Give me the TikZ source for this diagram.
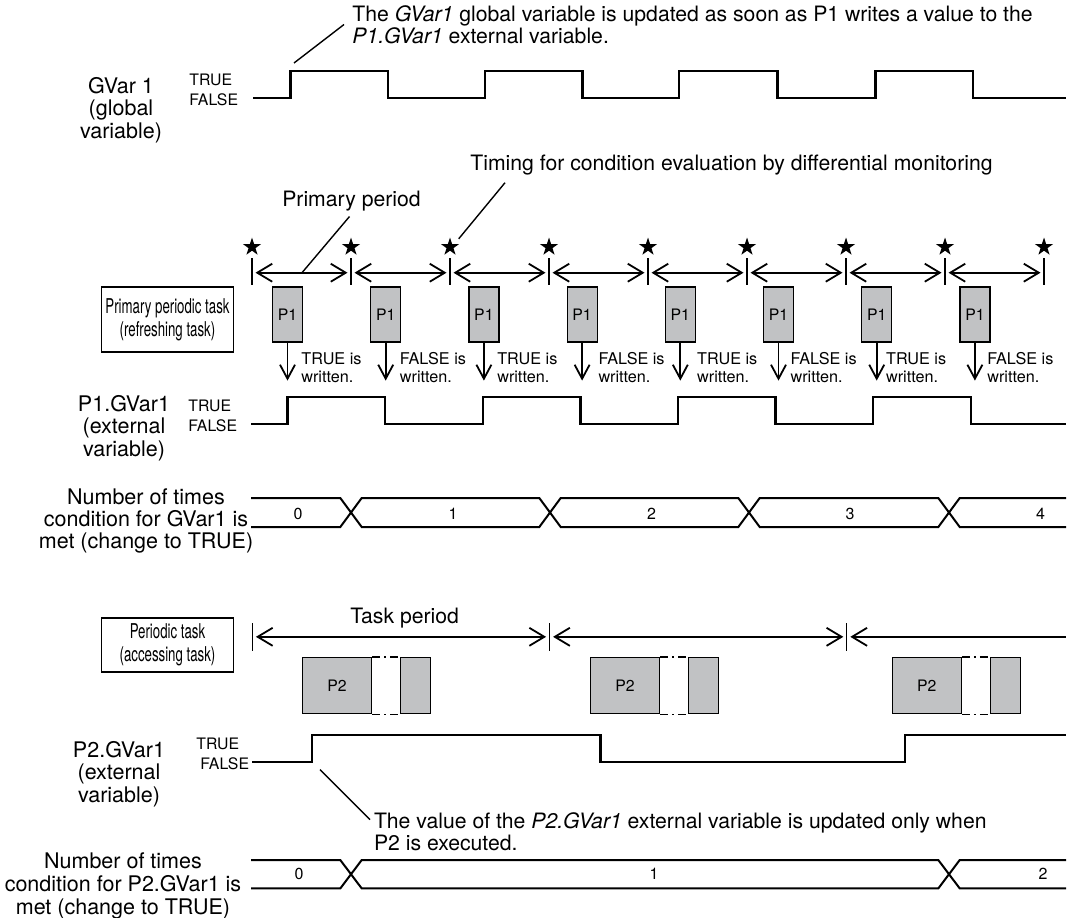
\documentclass[tikz,border=0pt]{standalone}
\usepackage{fontspec}
\setmainfont{TeX Gyre Heros}
\newfontfamily\narrowfont[FakeStretch=0.65]{TeX Gyre Heros}
\usetikzlibrary{arrows.meta,shapes.geometric}
\definecolor{taskgray}{RGB}{193,194,196}

\tikzset{
  wave/.style={line width=1.2pt},
  count/.style={line width=1pt},
  lbl/.style={align=center, inner sep=0pt, font=\fontsize{10.75}{11.2}\selectfont},
  lvl/.style={anchor=west, inner sep=0pt, font=\fontsize{7.9}{8}\selectfont},
  note/.style={align=left, inner sep=0pt, font=\fontsize{10.6}{9.2}\selectfont},
  num/.style={inner sep=0pt, font=\fontsize{8}{8}\selectfont},
  taskbox/.style={draw, line width=0.6pt, align=center, inner sep=0pt,
    minimum width=66pt, font=\narrowfont\fontsize{10.2}{11.5}\selectfont},
  pbox/.style={draw, line width=0.6pt, fill=taskgray, inner sep=0pt,
    font=\fontsize{7.9}{8}\selectfont},
  written/.style={anchor=west, align=left, inner sep=0pt, font=\fontsize{8.1}{9.15}\selectfont},
  starmark/.style={star, star points=5, star point ratio=2.6, fill=black,
    inner sep=0pt, minimum size=9.5pt},
  tickmark/.style={line width=0.6pt},
  period/.style={<->, line width=0.9pt},
  leader/.style={line width=0.7pt}
}

\begin{document}
\begin{tikzpicture}[x=0.5pt, y=-0.5pt, >={Straight Barb[length=7.5pt,width=9pt]}]
    \useasboundingbox (0,0) rectangle (1068,917);

    % GVar1
    \node[lbl] (gv) at (121,110) {GVar 1\\(global\\variable)};
    \node[lvl] (gvt) at (189,80) {TRUE};
    \node[lvl] (gvf) at (189,100) {FALSE};
    \draw[wave] (253,98) \foreach \r/\f in {290.3/388, 484.9/582.3, 679/777.6, 875.4/973}
        { -- (\r,98) -- (\r,71) -- (\f,71) -- (\f,98) } -- (1066,98);

    \node[note, anchor=west] (notegv) at (352,24.5)
        {The \textit{GVar1} global variable is updated as soon as P1 writes a value to the\\\textit{P1.GVar1} external variable.};
    \coordinate (gvtip) at (294,63);
    \draw[leader] (gvtip) -- ([xshift=-4pt]notegv.west);

    % primary period
    \node[note] (pp) at (351.5,201) {Primary period};
    \node[note, anchor=west] (tm) at (470,165.5) {Timing for condition evaluation by differential monitoring};
    \foreach \i in {0,...,8} {
        \node[starmark] (s\i) at ({252+99*\i},247) {};
        \draw[tickmark] ({252+99*\i},258) -- ({252+99*\i},285);
    }
    \foreach \i in {0,...,7}
        \draw[period] ({255.5+99*\i},272.7) -- ({347.5+99*\i},272.7);
    \coordinate (pptip) at (302,272.7);
    \coordinate (ppend) at (349.5,216.5);
    \draw[leader] (pptip) -- (ppend);
    \coordinate (tmtip) at (458.7,238.8);
    \coordinate (tmend) at (505,182.7);
    \draw[leader] (tmtip) -- (tmend);

    \node[taskbox, minimum height=32.5pt] (ppt) at (167.5,319.5) {Primary periodic task\\(refreshing task)};

    \foreach \k/\val/\dx in {0/TRUE/13.5, 1/FALSE/13.8, 2/TRUE/13, 3/FALSE/16,
                             4/TRUE/16.5, 5/FALSE/11.7, 6/TRUE/9, 7/FALSE/12} {
        \node[pbox, minimum width=15pt, minimum height=27.5pt] (p\k) at ({287.5+98.2*\k},314.5) {P1};
        \draw[->, line width=0.9pt, >={Straight Barb[length=7pt,width=7.5pt]}] (p\k.south) -- ++(0,38);
        \node[written] (w\k) at ({287.5+98.2*\k+\dx},367.5) {\val\ is\\written.};
    }

    % P1.GVar1
    \node[lbl] (p1v) at (124,428) {P1.GVar1\\(external\\variable)};
    \node[lvl] (p1t) at (188,406) {TRUE};
    \node[lvl] (p1f) at (188,426) {FALSE};
    \draw[wave] (251,424) \foreach \r/\f in {287.5/385.1, 482.7/580.3, 677.9/775.5, 873.1/970.7}
        { -- (\r,424) -- (\r,397) -- (\f,397) -- (\f,424) } -- (1066,424);

    % counter for GVar1
    \node[lbl] (c1) at (146,521) {Number of times\\condition for GVar1 is\\met (change to TRUE)};
    \draw[count] (251,498) -- (340.3,498) -- (351,512.5) -- (340.3,527) -- (251,527);
    \foreach \a/\b in {351/550, 550/749, 749/949}
        \draw[count] (\a,512.5) -- ({\a+10.7},498) -- ({\b-10.7},498) -- (\b,512.5)
            -- ({\b-10.7},527) -- ({\a+10.7},527) -- cycle;
    \draw[count] (1066,498) -- (959.7,498) -- (949,512.5) -- (959.7,527) -- (1066,527);
    \foreach \n/\x in {0/298, 1/453, 2/651.6, 3/850, 4/1040.6}
        \node[num] (c1n\n) at (\x,514) {\n};

    % periodic task
    \node[taskbox, minimum height=27pt] (pt) at (167.5,645) {Periodic task\\(accessing task)};
    \node[note] (tp) at (404.6,618) {Task period};
    \foreach \x in {252.4, 549.6, 846.8}
        \draw[tickmark] (\x,623) -- (\x,650.6);
    \draw[period] (255.9,636.8) -- (546.1,636.8);
    \draw[period] (553.1,636.8) -- (843.3,636.8);
    \draw[<-, line width=0.9pt] (850.3,636.8) -- (1066,636.8);
    \foreach \k/\x in {0/302, 1/590, 2/891.6} {
        \node[pbox, minimum width=34.5pt, minimum height=28pt, anchor=north west] (q\k) at (\x,657) {P2};
        \node[pbox, minimum width=15pt, minimum height=28pt, anchor=north west] (r\k) at ({\x+98},657) {};
        \draw[line width=0.6pt, dash pattern=on 4pt off 2pt on 1pt off 2pt] (q\k.north east) -- (r\k.north west);
        \draw[line width=0.6pt, dash pattern=on 4pt off 2pt on 1pt off 2pt] (q\k.south east) -- (r\k.south west);
    }

    % P2.GVar1
    \node[lbl] (p2v) at (119,774) {P2.GVar1\\(external\\variable)};
    \node[lvl] (p2t) at (196,744) {TRUE};
    \node[lvl] (p2f) at (200,764) {FALSE};
    \draw[wave] (252,762) -- (312,762) -- (312,735) -- (600.6,735) -- (600.6,762)
        -- (904.7,762) -- (904.7,735) -- (1066,735);
    \node[note, anchor=west] (notep2) at (373.6,831.5)
        {The value of the \textit{P2.GVar1} external variable is updated only when\\P2 is executed.};
    \coordinate (p2tip) at (320,769.6);
    \draw[leader] (p2tip) -- ([xshift=-1.8pt,yshift=6pt]notep2.west);

    % counter for P2.GVar1
    \node[lbl, font=\fontsize{10.75}{11.6}\selectfont] (c2) at (123,886) {Number of times\\condition for P2.GVar1 is\\met (change to TRUE)};
    \draw[count] (251,860) -- (340.3,860) -- (351,874.2) -- (340.3,888.4) -- (251,888.4);
    \draw[count] (351,874.2) -- (361.7,860) -- (938.3,860) -- (949,874.2)
        -- (938.3,888.4) -- (361.7,888.4) -- cycle;
    \draw[count] (1066,860) -- (959.7,860) -- (949,874.2) -- (959.7,888.4) -- (1066,888.4);
    \foreach \n/\x in {0/299, 1/654, 2/1043}
        \node[num] (c2n\n) at (\x,874) {\n};
\end{tikzpicture}
\end{document}
